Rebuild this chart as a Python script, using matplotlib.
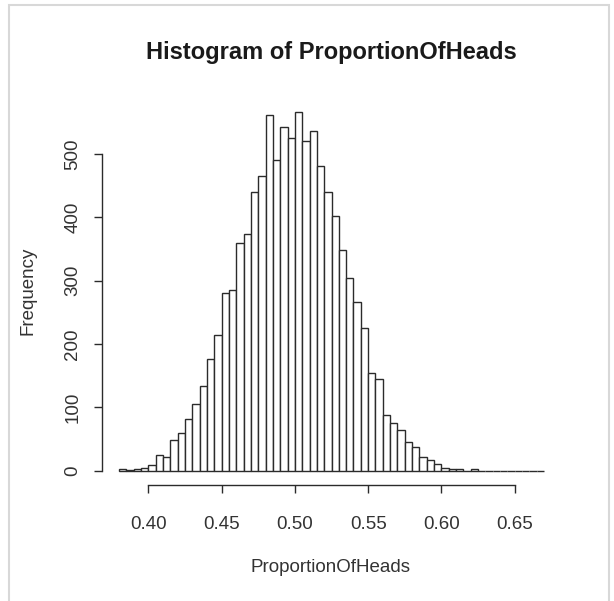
import numpy as np
import matplotlib
matplotlib.use('Agg')
import matplotlib.pyplot as plt
from matplotlib.patches import Rectangle

# bin edges of the histogram (width 0.005, from 0.38 to 0.67)
bin_start = 0.38
bin_width = 0.005
counts = [3, 1, 3, 5, 9, 25, 22, 49, 60, 82,
          106, 133, 176, 214, 280, 285, 360, 374, 440, 466,
          562, 491, 543, 525, 566, 521, 536, 482, 440, 402,
          349, 304, 267, 226, 155, 145, 88, 76, 64, 46,
          37, 21, 17, 11, 5, 3, 2, 0, 2, 0,
          0, 0, 0, 0, 0, 0, 0, 0]
edges = bin_start + bin_width * np.arange(len(counts) + 1)

x_ticks = [0.40, 0.45, 0.50, 0.55, 0.60, 0.65]
x_labels = ['0.40', '0.45', '0.50', '0.55', '0.60', '0.65']
y_ticks = [0, 100, 200, 300, 400, 500]

plt.rcParams['font.family'] = ['Liberation Sans', 'DejaVu Sans']
txt = '#333333'
W, H = 614, 601

fig = plt.figure(figsize=(W / 100, H / 100), dpi=100)
# plot region in pixels (R style)
left, right, top, bottom = 102, 561, 98, 485
ax = fig.add_axes([left / W, 1 - bottom / H, (right - left) / W, (bottom - top) / H])

ax.bar(edges[:-1], counts, width=bin_width, align='edge',
       facecolor='white', edgecolor='#2b2b2b', linewidth=1.0)

# R extends the range by 4%
xr = edges[-1] - edges[0]
ax.set_xlim(edges[0] - 0.04 * xr, edges[-1] + 0.04 * xr)
ymax = max(counts)
ax.set_ylim(-0.04 * ymax, ymax * 1.04)

for s in ['top', 'right']:
    ax.spines[s].set_visible(False)
ax.spines['bottom'].set_bounds(x_ticks[0], x_ticks[-1])
ax.spines['left'].set_bounds(y_ticks[0], y_ticks[-1])
for s in ['bottom', 'left']:
    ax.spines[s].set_color('#2b2b2b')
    ax.spines[s].set_linewidth(1.0)

ax.set_xticks(x_ticks)
ax.set_xticklabels(x_labels)
ax.set_yticks(y_ticks)
ax.set_yticklabels([str(v) for v in y_ticks], rotation=90, va='center')
ax.tick_params(axis='both', length=6, width=1.0, color='#2b2b2b',
               labelsize=13.5, labelcolor=txt)
ax.tick_params(axis='x', pad=16)
ax.tick_params(axis='y', pad=9)

fig.text(331 / W, 1 - 53 / H, 'Histogram of ProportionOfHeads',
         ha='center', va='center', fontsize=17, fontweight='bold', color='#1a1a1a')
fig.text(331 / W, 1 - 568 / H, 'ProportionOfHeads',
         ha='center', va='center', fontsize=13.5, color=txt)
fig.text(27.5 / W, 1 - 291 / H, 'Frequency', rotation=90,
         ha='center', va='center', fontsize=13.5, color=txt)

# light grey frame around the picture
fig.patches.append(Rectangle((9 / W, -0.01), (609 - 9) / W, 1 - 4.5 / H + 0.01,
                             transform=fig.transFigure, fill=False,
                             edgecolor='#d8d8d8', linewidth=1.5))

fig.savefig('out.png', dpi=100)
